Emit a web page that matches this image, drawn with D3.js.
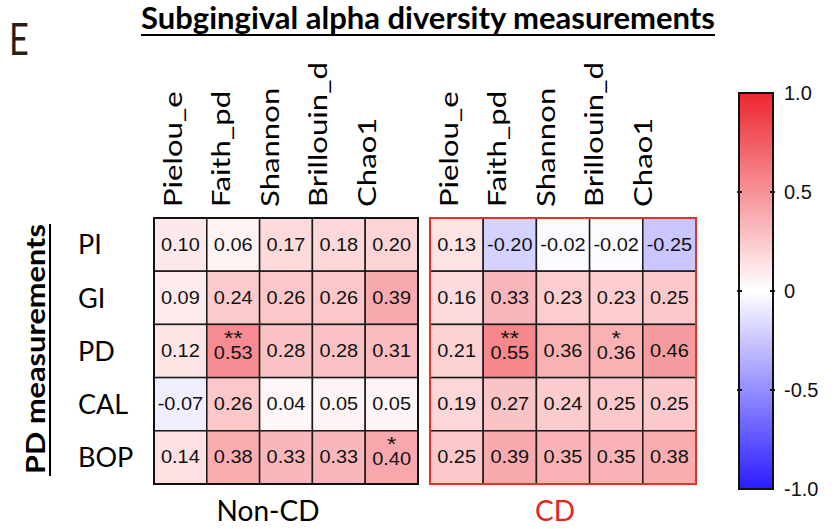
<!DOCTYPE html>
<html>
<head>
<meta charset="utf-8">
<script src="https://cdn.jsdelivr.net/npm/d3@7"></script>
<style>
  body { margin: 0; background: #ffffff; }
  svg { display: block; }
</style>
</head>
<body>
<svg id="chart" width="835" height="529"></svg>
<script>
// Spearman correlations: subgingival alpha diversity vs periodontal measurements
const metrics = ["Pielou_e", "Faith_pd", "Shannon", "Brillouin_d", "Chao1"];
const measures = ["PI", "GI", "PD", "CAL", "BOP"];

const nonCDValues = [
  [0.10, 0.06, 0.17, 0.18, 0.20],
  [0.09, 0.24, 0.26, 0.26, 0.39],
  [0.12, 0.53, 0.28, 0.28, 0.31],
  [-0.07, 0.26, 0.04, 0.05, 0.05],
  [0.14, 0.38, 0.33, 0.33, 0.40]
];
const nonCDStars = [
  ["", "", "", "", ""],
  ["", "", "", "", ""],
  ["", "**", "", "", ""],
  ["", "", "", "", ""],
  ["", "", "", "", "*"]
];

const cdValues = [
  [0.13, -0.20, -0.02, -0.02, -0.25],
  [0.16, 0.33, 0.23, 0.23, 0.25],
  [0.21, 0.55, 0.36, 0.36, 0.46],
  [0.19, 0.27, 0.24, 0.25, 0.25],
  [0.25, 0.39, 0.35, 0.35, 0.38]
];
const cdStars = [
  ["", "", "", "", ""],
  ["", "", "", "", ""],
  ["", "**", "", "*", ""],
  ["", "", "", "", ""],
  ["", "", "", "", ""]
];

const colorTicks = [1.0, 0.5, 0, -0.5, -1.0];
const colorTickLabels = ["1.0", "0.5", "0", "-0.5", "-1.0"];

const svg = d3.select("#chart");
const labelFont = "Lato, 'Open Sans', sans-serif";
const numFont = "'Liberation Sans', Arial, sans-serif";
const fmt = d3.formatLocale({ decimal: ".", thousands: ",", grouping: [3], currency: ["", ""], minus: "-" }).format(".2f");

const color = d3.scaleLinear()
  .domain([-1, 0, 1])
  .range(["#2a1cff", "#ffffff", "#ee2630"]);

// Stretch a text along its reading direction so that it spans `len` pixels.
function fitLength(sel, x, y, len, rotate) {
  const w = sel.node().getComputedTextLength();
  const k = len / w;
  sel.attr("transform", rotate
    ? `translate(${x},${y}) scale(1,${k}) rotate(-90)`
    : `translate(${x},${y}) scale(${k},1)`);
  return k;
}

// Title
const title = svg.append("text")
  .attr("text-anchor", "middle")
  .attr("font-family", labelFont)
  .attr("font-weight", "bold")
  .attr("font-size", 30)
  .attr("fill", "#000")
  .text("Subgingival alpha diversity measurements");
fitLength(title, 428, 29, 574, false);
svg.append("line")
  .attr("x1", 141).attr("x2", 715)
  .attr("y1", 35).attr("y2", 35)
  .attr("stroke", "#000").attr("stroke-width", 2);

// Panel letter
svg.append("text")
  .attr("font-family", labelFont)
  .attr("font-size", 44)
  .attr("fill", "#2b1d14")
  .attr("transform", "translate(9,55) scale(0.78,1)")
  .text("E");

// Row axis title
const rowTitle = svg.append("text")
  .attr("text-anchor", "middle")
  .attr("font-family", labelFont)
  .attr("font-weight", "bold")
  .attr("font-size", 27)
  .attr("fill", "#000")
  .text("PD measurements");
fitLength(rowTitle, 45, 349, 250, true);
svg.append("line")
  .attr("x1", 50).attr("x2", 50)
  .attr("y1", 224).attr("y2", 476)
  .attr("stroke", "#000").attr("stroke-width", 2);

const y = d3.scaleBand().domain(measures).range([218, 484]);

// Row labels
svg.append("g").selectAll("text")
  .data(measures)
  .join("text")
  .attr("x", 78)
  .attr("y", d => y(d) + y.bandwidth() / 2)
  .attr("dy", "0.36em")
  .attr("font-family", labelFont)
  .attr("font-size", 27)
  .attr("fill", "#000")
  .text(d => d);

function drawPanel(x0, x1, values, stars, name, nameX, borderColor, nameColor) {
  const x = d3.scaleBand().domain(metrics).range([x0, x1]);
  const g = svg.append("g");
  const cells = [];
  values.forEach((row, i) => row.forEach((v, j) => cells.push({
    r: measures[i], c: metrics[j], v: v, s: stars[i][j]
  })));

  g.selectAll("rect.cell")
    .data(cells)
    .join("rect")
    .attr("class", "cell")
    .attr("x", d => x(d.c))
    .attr("y", d => y(d.r))
    .attr("width", x.bandwidth())
    .attr("height", y.bandwidth())
    .attr("fill", d => color(d.v))
    .attr("stroke", "#1a1a1a")
    .attr("stroke-width", 1.5);

  // Cell value, with significance stars stacked above it in the same text
  const vals = g.selectAll("text.val")
    .data(cells)
    .join("text")
    .attr("class", "val")
    .attr("transform", d =>
      `translate(${x(d.c) + x.bandwidth() / 2},${y(d.r) + y.bandwidth() / 2}) scale(1.14,1)`)
    .attr("text-anchor", "middle")
    .attr("font-family", numFont)
    .attr("fill", "#111");
  vals.filter(d => d.s).append("tspan")
    .attr("x", 0)
    .attr("y", -6)
    .attr("font-size", 21)
    .text(d => d.s);
  vals.append("tspan")
    .attr("x", 0)
    .attr("y", d => d.s ? 8 : 6)
    .attr("font-size", 17.5)
    .text(d => fmt(d.v));

  g.append("rect")
    .attr("x", x0).attr("y", y.range()[0])
    .attr("width", x1 - x0).attr("height", y.range()[1] - y.range()[0])
    .attr("fill", "none")
    .attr("stroke", borderColor)
    .attr("stroke-width", 2);

  // Column labels, all stretched by the same factor
  const lx = d3.scalePoint().domain(metrics).range([x0 + 19, x0 + 19 + 4 * 48.5]);
  const cols = g.selectAll("text.col")
    .data(metrics)
    .join("text")
    .attr("class", "col")
    .attr("dy", "0.35em")
    .attr("font-family", labelFont)
    .attr("font-size", 25)
    .attr("fill", "#000")
    .text(d => d);
  const ref = cols.filter(d => d === "Brillouin_d").node().getComputedTextLength();
  const k = 145 / ref;
  cols.attr("transform", d => `translate(${lx(d)},207) scale(1,${k}) rotate(-90)`);

  svg.append("text")
    .attr("x", nameX)
    .attr("y", 521)
    .attr("text-anchor", "middle")
    .attr("font-family", labelFont)
    .attr("font-size", 28)
    .attr("fill", nameColor)
    .text(name);
}

drawPanel(154, 418, nonCDValues, nonCDStars, "Non-CD", 268, "#111", "#000");
drawPanel(430, 696, cdValues, cdStars, "CD", 555, "#e8302a", "#e8231f");

// Colour bar
const cbX = 739, cbW = 34;
const cy = d3.scaleLinear().domain([1, -1]).range([93, 489]);
const defs = svg.append("defs");
const grad = defs.append("linearGradient")
  .attr("id", "cbGrad")
  .attr("x1", 0).attr("y1", 0).attr("x2", 0).attr("y2", 1);
d3.range(0, 1.0001, 0.1).forEach(t => {
  grad.append("stop")
    .attr("offset", t)
    .attr("stop-color", color(1 - 2 * t));
});
svg.append("rect")
  .attr("x", cbX).attr("y", cy(1))
  .attr("width", cbW).attr("height", cy(-1) - cy(1))
  .attr("fill", "url(#cbGrad)")
  .attr("stroke", "#111")
  .attr("stroke-width", 2);

const cbTicks = svg.append("g");
cbTicks.selectAll("line.l")
  .data(colorTicks.filter(t => Math.abs(t) < 1))
  .join("line")
  .attr("x1", cbX - 2).attr("x2", cbX + 3)
  .attr("y1", d => cy(d)).attr("y2", d => cy(d))
  .attr("stroke", "#111").attr("stroke-width", 2);
cbTicks.selectAll("line.r")
  .data(colorTicks.filter(t => Math.abs(t) < 1))
  .join("line")
  .attr("x1", cbX + cbW - 3).attr("x2", cbX + cbW + 2)
  .attr("y1", d => cy(d)).attr("y2", d => cy(d))
  .attr("stroke", "#111").attr("stroke-width", 2);
cbTicks.selectAll("text")
  .data(colorTicks)
  .join("text")
  .attr("x", 784)
  .attr("y", d => cy(d))
  .attr("dy", "0.36em")
  .attr("font-family", numFont)
  .attr("font-size", 20)
  .attr("fill", "#111")
  .text((d, i) => colorTickLabels[i]);
</script>
</body>
</html>
